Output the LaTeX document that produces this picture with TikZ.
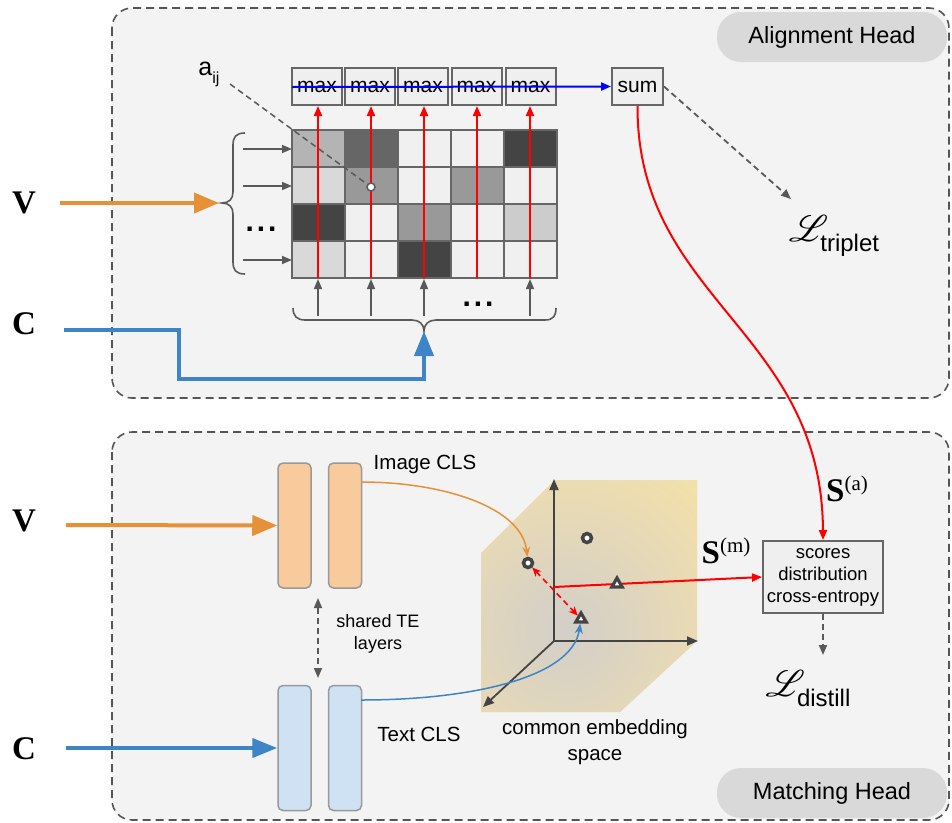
\documentclass[tikz,border=0pt]{standalone}
\usepackage{fontspec}
\setmainfont{Liberation Sans}
\newfontfamily\timesf{Liberation Serif}
\usepackage{mathrsfs}
\usepackage{graphicx}
\usetikzlibrary{arrows.meta,shapes.geometric}
\newcommand\myfs[1]{\fontsize{#1}{#1}\selectfont}
\newcommand\bigL{\scalebox{3.7}{$\mathscr{L}$}}
\definecolor{panelbg}{HTML}{F3F3F3}
\definecolor{dgray}{HTML}{595959}
\definecolor{bordergray}{HTML}{555555}
\definecolor{pillgray}{HTML}{D9D9D9}
\definecolor{vorange}{HTML}{E69138}
\definecolor{cblue}{HTML}{3D85C6}
\definecolor{orfill}{HTML}{F9CB9C}
\definecolor{blfill}{HTML}{CFE2F3}
\definecolor{boxfill}{HTML}{EFEFEF}
\definecolor{gridline}{HTML}{666666}
\definecolor{rectline}{HTML}{999999}
\definecolor{axisgray}{HTML}{444444}
\definecolor{pureblue}{HTML}{0000FF}
\definecolor{purered}{HTML}{FF0000}
\definecolor{cubeyellow}{HTML}{FCE5A0}
\definecolor{cubegray}{HTML}{D3CFCA}
\begin{document}
\begin{tikzpicture}[x=1pt,y=-1pt,
  panel/.style={draw=bordergray, line width=1.6pt, dash pattern=on 8pt off 5pt, rounded corners=20pt, fill=panelbg},
  pill/.style={fill=pillgray, rounded corners=24pt, minimum width=230pt, minimum height=50pt, inner sep=0pt, font=\myfs{23.5}},
  opbox/.style={draw=gridline, fill=boxfill, line width=2pt, minimum width=50pt, minimum height=37pt, inner sep=0pt, font=\myfs{21}},
  bigletter/.style={font=\timesf\bfseries\myfs{33}, inner sep=0pt},
  redarr/.style={draw=purered, line width=2pt, -{Triangle[length=10pt,width=8pt]}},
  grayarr/.style={draw=dgray, line width=1.6pt, -{Triangle[length=10pt,width=8pt]}},
  graydash/.style={draw=dgray, line width=1.8pt, dash pattern=on 6pt off 4pt, -{Triangle[length=10pt,width=8pt]}},
  encO/.style={draw=rectline, fill=orfill, line width=1.5pt, rounded corners=5pt, minimum width=33pt, minimum height=125pt, inner sep=0pt},
  encB/.style={draw=rectline, fill=blfill, line width=1.5pt, rounded corners=5pt, minimum width=33pt, minimum height=125pt, inner sep=0pt},
  ring/.style={circle, draw=axisgray, fill=white, line width=3.5pt, minimum size=9pt, inner sep=0pt},
  tri/.style={regular polygon, regular polygon sides=3, draw=axisgray, fill=white, line width=3.2pt, minimum size=12pt, inner sep=0pt},
  lbl/.style={inner sep=0pt}
]
\useasboundingbox (0,0) rectangle (952,822);
\fill[white] (0,0) rectangle (952,822);

% panels
\draw[panel] (112,8) rectangle (949,398);
\draw[panel] (112,432) rectangle (949,820);
\node[pill] (alh) at (832,37) {Alignment Head};
\node[pill] (mth) at (832,793) {Matching Head};

% ---------------- alignment head ----------------
\foreach \c [count=\i from 0] in {B4B4B4,666666,F0F0F0,F0F0F0,444444,
                                  D9D9D9,999999,F0F0F0,999999,F0F0F0,
                                  444444,F0F0F0,999999,F0F0F0,CCCCCC,
                                  D9D9D9,F0F0F0,444444,F0F0F0,F0F0F0} {
  \pgfmathtruncatemacro\r{int(\i/5)}
  \pgfmathtruncatemacro\cc{mod(\i,5)}
  \definecolor{tmpc}{HTML}{\c}
  \fill[tmpc] (292+53*\cc,130+37*\r) rectangle ++(53,37);
}
\foreach \k in {0,...,5} \draw[gridline, line width=2pt] (292+53*\k,130) -- (292+53*\k,278);
\foreach \k in {0,...,4} \draw[gridline, line width=2pt] (291,130+37*\k) -- (558,130+37*\k);

% max boxes and sum
\node[opbox] (m1) at (317,86.5) {max};
\node[opbox] (m2) at (370,86.5) {max};
\node[opbox] (m3) at (423,86.5) {max};
\node[opbox] (m4) at (476.5,86.5) {max};
\node[opbox] (m5) at (530.5,86.5) {max};
\node[opbox, minimum width=51pt] (sum) at (637.5,86.5) {sum};

% red column arrows
\foreach \x [count=\i] in {318,371,424,477,530} \coordinate (g\i) at (\x,278);
\foreach \i in {1,...,5} \draw[redarr] (g\i) -- (g\i |- m\i.south);

% blue line through max boxes
\coordinate (bstart) at (292,87);
\draw[draw=pureblue, line width=2pt, -{Triangle[length=10pt,width=8pt]}] (bstart) -- (sum.west);

% a_ij
\node[lbl] (alabel) at (209,74) {{\myfs{25}a}\raisebox{-8pt}{\myfs{16}ij}};
\coordinate (astart) at (230,84);
\node[circle, draw=dgray, fill=white, line width=1.5pt, minimum size=8pt, inner sep=0pt] (aij) at (371,187) {};
\draw[dgray, line width=1.5pt, dash pattern=on 6pt off 4pt] (astart) -- (aij);

% left brace and row arrows
\draw[dgray, line width=1.6pt] (245,133) .. controls (236,133) and (233,137) .. (233,145) -- (233,192)
  .. controls (233,199) and (229,203) .. (222,203) .. controls (229,203) and (233,207) .. (233,214)
  -- (233,262) .. controls (233,270) and (236,274) .. (245,274);
\foreach \y [count=\i] in {149,186,260} {
  \coordinate (rs\i) at (243,\y);
  \coordinate (re\i) at (292,\y);
  \draw[grayarr] (rs\i) -- (re\i);
}
\node[lbl] (ldots) at (261,229) {\myfs{30}\bfseries .\hspace{3pt}.\hspace{3pt}.};

% bottom brace and column arrows
\draw[dgray, line width=1.6pt] (293,308) .. controls (293,316) and (297,320) .. (305,320) -- (412,320)
  .. controls (419,320) and (424,324) .. (424,331) .. controls (424,324) and (429,320) .. (436,320)
  -- (545,320) .. controls (553,320) and (556,316) .. (556,308);
\foreach \x [count=\i] in {318,371,424,530} {
  \coordinate (cs\i) at (\x,316);
  \coordinate (ce\i) at (\x,279);
  \draw[grayarr] (cs\i) -- (ce\i);
}
\node[lbl] (bdots) at (478,304) {\myfs{30}\bfseries .\hspace{3pt}.\hspace{3pt}.};

% V and C inputs (top)
\node[bigletter] (vtop) at (24,203) {V};
\node[bigletter] (ctop) at (24,324) {C};
\coordinate (vts) at (60,203);
\coordinate (vte) at (219,203);
\draw[vorange, line width=4pt, -{Triangle[length=25pt,width=20pt]}] (vts) -- (vte);
\coordinate (cts) at (64,330);
\coordinate (cte) at (424,331);
\draw[cblue, line width=4pt, -{Triangle[length=25pt,width=19pt]}] (cts) -- (179,330) -- (179,379) -- (424,379) -- (cte);

% sum -> L_triplet
\coordinate (ltt) at (791,199);
\draw[graydash] (sum.east) -- (ltt);
\node[lbl] (ltrip) at (834,236) {\bigL\hspace{-8pt}\raisebox{-10pt}{\myfs{24}triplet}};

% ---------------- matching head ----------------
\node[encO] (a1) at (294.5,525.5) {};
\node[encO] (a2) at (345,525.5) {};
\node[encB] (b1) at (294.5,748) {};
\node[encB] (b2) at (345,748) {};

\node[bigletter] (vbot) at (24,521) {V};
\node[bigletter] (cbot) at (24,749) {C};
\coordinate (vbs) at (66,525);
\coordinate (cbs) at (66,748);
\draw[vorange, line width=4pt, -{Triangle[length=25pt,width=20pt]}] (vbs) -- (a1.west);
\draw[cblue, line width=4pt, -{Triangle[length=25pt,width=19pt]}] (cbs) -- (b1.west);

\coordinate (sh1) at (318,598);
\coordinate (sh2) at (318,678);
\draw[dgray, line width=1.6pt, dash pattern=on 6pt off 4pt, {Triangle[length=10pt,width=8pt]}-{Triangle[length=10pt,width=8pt]}] (sh1) -- (sh2);
\node[lbl, align=center, font=\myfs{18}] (shared) at (378,634) {shared TE\\[4pt]layers};
\node[lbl, font=\myfs{20.5}] (imgcls) at (425,464) {Image CLS};
\node[lbl, font=\myfs{20.5}] (txtcls) at (419,734) {Text CLS};

% embedding space
\begin{scope}
  \clip (481,553) -- (555,480) -- (697,480) -- (697,641) -- (620,712) -- (481,712) -- cycle;
  \fill[cubeyellow] (470,470) rectangle (710,720);
  \shade[inner color=cubegray, outer color=cubeyellow] (565,630) circle (250);
\end{scope}
\coordinate (org) at (554,641);
\coordinate (axu) at (554,479);
\coordinate (axr) at (698,641);
\coordinate (axd) at (483,707);
\draw[axisgray, line width=1.8pt, -{Triangle[length=11pt,width=9pt]}] (org) -- (axu);
\draw[axisgray, line width=1.8pt, -{Triangle[length=11pt,width=9pt]}] (org) -- (axr);
\draw[axisgray, line width=1.8pt, -{Triangle[length=11pt,width=9pt]}] (org) -- (axd);
\node[lbl, align=center, font=\myfs{20.5}] (ces) at (595,742) {common embedding\\[5pt]space};

% scores box
\node[draw=gridline, fill=boxfill, line width=2pt, minimum width=120pt, minimum height=72pt, inner sep=0pt, align=center, font=\fontsize{18.5}{22}\selectfont] (scores) at (823,577) {scores\\distribution\\cross-entropy};

\coordinate (axs) at (554,587);
\draw[redarr] (axs) -- (scores.west);

\node[ring] (p1) at (528,563) {};
\node[ring] (p2) at (587,538) {};
\node[tri] (t1) at (617,584) {};
\node[tri] (t2) at (581,619) {};

\draw[purered, line width=1.6pt, dash pattern=on 6pt off 4pt, {Stealth[length=9pt,width=8pt]}-{Stealth[length=9pt,width=8pt]}] (p1) -- (t2);

\coordinate (imgout) at (361,482);
\coordinate (txtout) at (361,700);
\draw[vorange, line width=1.5pt, -{Stealth[length=10pt,width=8pt]}] (imgout) .. controls (445,482) and (522,508) .. (p1);
\draw[cblue, line width=1.5pt, -{Stealth[length=10pt,width=8pt]}] (txtout) .. controls (470,700) and (572,678) .. (t2);

\draw[redarr] (sum.south) .. controls (637,300) and (822,330) .. (scores.north);

\node[lbl] (sa) at (847,489) {{\timesf\bfseries\myfs{33}S}\raisebox{11pt}{\timesf\myfs{21}(a)}};
\node[lbl] (sm) at (726,551) {{\timesf\bfseries\myfs{33}S}\raisebox{11pt}{\timesf\myfs{21}(m)}};

\coordinate (ldt) at (823,655);
\draw[graydash] (scores.south) -- (ldt);
\node[lbl] (ldist) at (808,689) {\bigL\hspace{-8pt}\raisebox{-10pt}{\myfs{24}distill}};
\end{tikzpicture}
\end{document}
